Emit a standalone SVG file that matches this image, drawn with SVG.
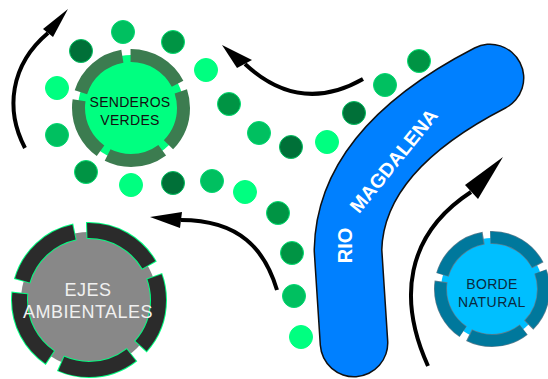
<svg xmlns="http://www.w3.org/2000/svg" width="548" height="379" viewBox="0 0 548 379">
<style>
.dot{stroke-width:1}
.L{fill:#00FF80;stroke:#00FF80}
.M{fill:#00C060;stroke:#00D870}
.D1{fill:#009444;stroke:#00E070}
.D2{fill:#007038;stroke:#00C060}
.arc{fill:none;stroke:#000;stroke-width:4}
.head{fill:#000}
.lbl{font-family:"Liberation Sans",Arial,sans-serif;text-anchor:middle}
</style>
<rect width="548" height="379" fill="#fff"/>
<g id="river">
<path d="M490,78 Q350,150 348,250 L354,343" fill="none" stroke="#111" stroke-width="69" stroke-linecap="round" stroke-linejoin="round"/>
<path d="M490,78 Q350,150 348,250 L354,343" fill="none" stroke="#0080FF" stroke-width="66" stroke-linecap="round" stroke-linejoin="round"/>
<text class="lbl" transform="translate(352,245.5) rotate(-90)" font-size="20" font-weight="bold" fill="#fff">RIO</text>
<text class="lbl" transform="translate(399,165) rotate(-51)" font-size="19.5" font-weight="bold" fill="#fff">MAGDALENA</text>
</g>
<g id="dots">
<circle class="dot M" cx="123" cy="32" r="11.5"/>
<circle class="dot D1" cx="173" cy="42" r="11.5"/>
<circle class="dot D2" cx="81" cy="51" r="11.5"/>
<circle class="dot L" cx="206" cy="70" r="11.5"/>
<circle class="dot L" cx="57" cy="88" r="11.5"/>
<circle class="dot D1" cx="229" cy="104" r="11.5"/>
<circle class="dot M" cx="57" cy="135" r="11.5"/>
<circle class="dot M" cx="259" cy="133" r="11.5"/>
<circle class="dot D1" cx="86" cy="172" r="11.5"/>
<circle class="dot L" cx="131" cy="185" r="11.5"/>
<circle class="dot D2" cx="173" cy="183" r="11.5"/>
<circle class="dot M" cx="212" cy="181" r="11.5"/>
<circle class="dot L" cx="245" cy="192" r="11.5"/>
<circle class="dot D2" cx="291" cy="147" r="11.5"/>
<circle class="dot L" cx="327" cy="142" r="11.5"/>
<circle class="dot D2" cx="354" cy="113" r="11.5"/>
<circle class="dot M" cx="385" cy="85" r="11.5"/>
<circle class="dot D1" cx="419" cy="61" r="11.5"/>
<circle class="dot D1" cx="278" cy="213" r="11.5"/>
<circle class="dot D1" cx="292" cy="253" r="11.5"/>
<circle class="dot M" cx="294" cy="296" r="11.5"/>
<circle class="dot L" cx="301" cy="337" r="11.5"/>
</g>
<g id="senderos-verdes">
<circle cx="131" cy="108" r="53" fill="#00FF80"/>
<circle cx="131" cy="108" r="52.5" fill="none" stroke="#3C7C50" stroke-width="13" pathLength="360" stroke-dasharray="63 9" stroke-dashoffset="18.5"/>
<text class="lbl" x="130" y="107" font-size="14" fill="#111" letter-spacing="0.3">SENDEROS</text>
<text class="lbl" x="130" y="125" font-size="14" fill="#111" letter-spacing="0.3">VERDES</text>
</g>
<g id="ejes-ambientales">
<circle cx="89" cy="300" r="68" fill="#888888"/>
<circle cx="89" cy="300" r="69.5" fill="none" stroke="#00FF80" stroke-width="17" pathLength="360" stroke-dasharray="62.6 9.4" stroke-dashoffset="20.3"/>
<circle cx="89" cy="300" r="69.5" fill="none" stroke="#2B2B2B" stroke-width="15" pathLength="360" stroke-dasharray="61 11" stroke-dashoffset="19.5"/>
<text class="lbl" x="88" y="296" font-size="18" fill="#F0F0F0" letter-spacing="0.5">EJES</text>
<text class="lbl" x="88" y="318" font-size="18" fill="#F0F0F0" letter-spacing="0.5">AMBIENTALES</text>
</g>
<g id="borde-natural">
<circle cx="492" cy="289" r="51" fill="#00BFFF"/>
<circle cx="492" cy="289" r="51.5" fill="none" stroke="#5A7F90" stroke-width="13" pathLength="360" stroke-dasharray="64.6 7.4" stroke-dashoffset="20"/>
<circle cx="492" cy="289" r="51.5" fill="none" stroke="#00789C" stroke-width="11.5" pathLength="360" stroke-dasharray="63 9" stroke-dashoffset="19.5"/>
<text class="lbl" x="492" y="289" font-size="14" fill="#0A2A40" letter-spacing="0.3">BORDE</text>
<text class="lbl" x="492" y="307" font-size="14" fill="#0A2A40" letter-spacing="0.5">NATURAL</text>
</g>
<g id="connectors">
<path class="arc" d="M25,148 C5,110 10,65 48,33"/>
<polygon class="head" points="68,9 43,29 53,37"/>
<path class="arc" d="M363,79 Q300,115 245,64"/>
<polygon class="head" points="222,45 252,60 237,68"/>
<path class="arc" d="M277,290 C265,250 240,220 181,220"/>
<polygon class="head" points="150,217 182,212 180,228"/>
<path class="arc" d="M428,366 C398,300 405,235 471,192"/>
<polygon class="head" points="503,157 465,185 478,199"/>
</g>
</svg>
